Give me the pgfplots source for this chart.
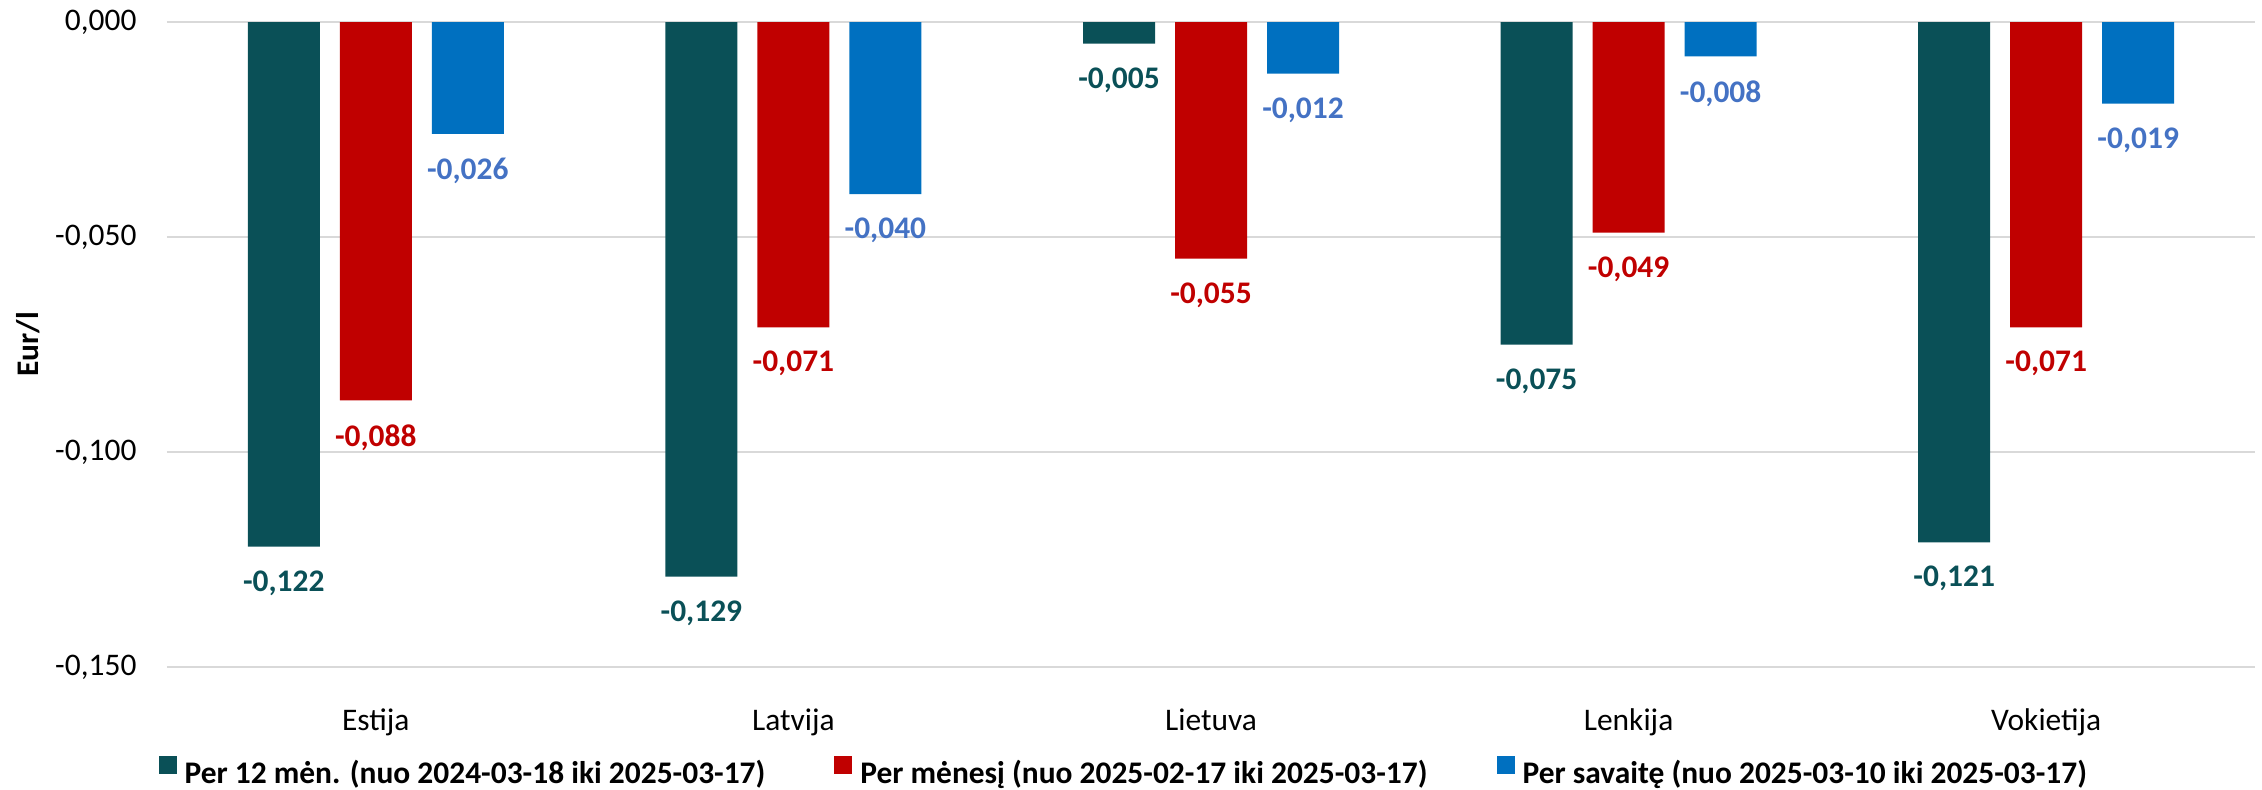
\documentclass[border=0pt]{standalone}
\usepackage{fontspec}
\setmainfont{Carlito}
\usepackage{pgfplots}
\pgfplotsset{compat=1.18}

\definecolor{tealbar}{HTML}{0A5057}
\definecolor{redbar}{HTML}{C00000}
\definecolor{bluebar}{HTML}{0070C0}
\definecolor{bluelab}{HTML}{4472C4}
\definecolor{gridc}{HTML}{D9D9D9}

\begin{document}
\fontsize{11}{13.2}\selectfont
\begin{tikzpicture}
% page frame, same proportions as the reference
\path (-58.45pt,-42.7pt) rectangle (733.25pt,233.45pt);
\begin{axis}[
    at={(0pt,0pt)}, anchor=south west,
    scale only axis,
    width=730.8pt, height=225.75pt,
    ybar=7pt, bar width=25.2pt,
    xmin=-0.5, xmax=4.5,
    ymin=-0.15, ymax=0,
    enlargelimits=false,
    clip=false,
    xtick={0,1,2,3,4},
    xticklabels={Estija, Latvija, Lietuva, Lenkija, Vokietija},
    ytick={-0.15,-0.1,-0.05,0},
    scaled y ticks=false,
    /pgf/number format/.cd, fixed, fixed zerofill, precision=3, use comma, assume math mode=true,
    /pgfplots/.cd,
    axis line style={draw=none},
    tick style={draw=none},
    ymajorgrids,
    major grid style={gridc, line width=0.75pt},
    yticklabel style={anchor=east, inner sep=0pt, xshift=-10.5pt},
    xticklabel style={anchor=base, inner sep=0pt, yshift=-17.85pt},
    every axis y label/.style={at={(axis description cs:-0.0666,0.5)}, rotate=90, anchor=center, font=\bfseries},
    ylabel={Eur/l},
    nodes near coords,
    every node near coord/.append style={anchor=north, inner sep=0pt, yshift=-8.2pt, font=\bfseries},
    legend image code/.code={\fill[#1] (0pt,0pt) rectangle (6.3pt,6.3pt);},
    legend style={
        at={(axis description cs:-0.0043,-0.163)}, anchor=west,
        draw=none, inner sep=0pt, font=\bfseries,
        legend columns=3,
        nodes={inner sep=0pt},
        /tikz/every odd column/.append style={column sep=2.8pt},
        /tikz/every even column/.append style={column sep=24.15pt},
    },
]
\addplot[fill=tealbar, draw=none, every node near coord/.append style={text=tealbar}] coordinates {
    (0,-0.122) (1,-0.129) (2,-0.005) (3,-0.075) (4,-0.121)
};
\addlegendentry{Per 12 mėn. (nuo 2024-03-18 iki 2025-03-17)}
\addplot[fill=redbar, draw=none, every node near coord/.append style={text=redbar}] coordinates {
    (0,-0.088) (1,-0.071) (2,-0.055) (3,-0.049) (4,-0.071)
};
\addlegendentry{Per mėnesį (nuo 2025-02-17 iki 2025-03-17)}
\addplot[fill=bluebar, draw=none, every node near coord/.append style={text=bluelab}] coordinates {
    (0,-0.026) (1,-0.040) (2,-0.012) (3,-0.008) (4,-0.019)
};
\addlegendentry{Per savaitę (nuo 2025-03-10 iki 2025-03-17)}
\end{axis}
\end{tikzpicture}
\end{document}
